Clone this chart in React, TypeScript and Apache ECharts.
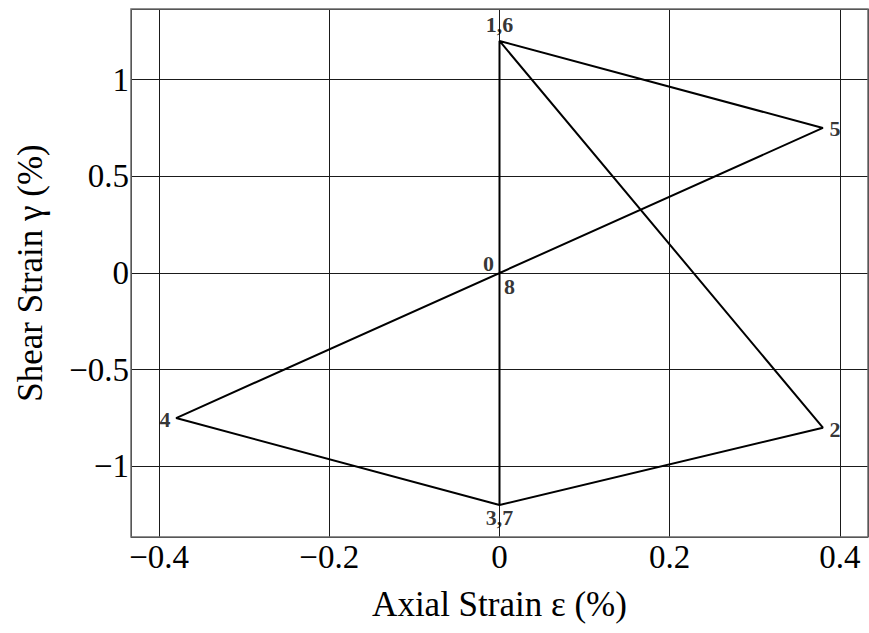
import React, { useEffect, useRef } from "react";
import * as echarts from "echarts";

// Loading path points 0..8 (axial strain ε %, shear strain γ %)
const axialStrain = [0, 0, 0.38, 0, -0.38, 0.38, 0, 0, 0];
const shearStrain = [0, 1.2, -0.8, -1.2, -0.75, 0.75, 1.2, -1.2, 0];

// Point annotations: label text and the path index it refers to
const pointLabelTexts = ["0", "1,6", "2", "3,7", "4", "5", "8"];
const pointLabelIndex = [0, 1, 2, 3, 4, 5, 8];
const pointLabelOffsets: [number, number][] = [
  [-11, -10],
  [0, -16],
  [12, 2],
  [0, 12],
  [-11, 1],
  [12, 1],
  [10, 13],
];

const xLimits = [-0.433, 0.433];
const yLimits = [-1.365, 1.365];

const SERIF = "'Liberation Serif', 'DejaVu Serif', serif";
const fmt = (v: number) => {
  const r = Math.round(v * 1000) / 1000;
  if (r === 0) return "0";
  return (r < 0 ? "\u2212" : "") + String(Math.abs(r));
};

const GRID = { left: 131, top: 9, width: 737, height: 528 };

export default function App() {
  const ref = useRef<HTMLDivElement>(null);
  useEffect(() => {
    if (!ref.current) return;
    const chart = echarts.init(ref.current, null, { renderer: "svg" });
    const pathData = axialStrain.map((x, i) => [x, shearStrain[i]]);
    const labelData = pointLabelTexts.map((t, k) => ({
      value: [axialStrain[pointLabelIndex[k]], shearStrain[pointLabelIndex[k]]],
      label: {
        show: true,
        position: "inside",
        offset: pointLabelOffsets[k],
        formatter: t,
      },
    }));
    chart.setOption({
      animation: false,
      backgroundColor: "#ffffff",
      grid: { ...GRID, containLabel: false, outerBoundsMode: "none", show: false },
      xAxis: {
        type: "value",
        min: xLimits[0],
        max: xLimits[1],
        splitNumber: 4,
        name: "Axial Strain ε (%)",
        nameLocation: "middle",
        nameGap: 50,
        nameTextStyle: { fontFamily: SERIF, fontSize: 35, color: "#000" },
        axisLine: { show: false },
        axisTick: { show: false },
        axisLabel: {
          showMinLabel: false,
          showMaxLabel: false,
          formatter: fmt,
          fontFamily: SERIF,
          fontSize: 33,
          color: "#000",
          margin: 3,
        },
        splitLine: { show: true, lineStyle: { color: "#1a1a1a", width: 1 } },
      },
      yAxis: {
        type: "value",
        min: yLimits[0],
        max: yLimits[1],
        splitNumber: 5,
        name: "Shear Strain γ (%)",
        nameLocation: "middle",
        nameGap: 83,
        nameTextStyle: { fontFamily: SERIF, fontSize: 35, color: "#000" },
        axisLine: { show: false },
        axisTick: { show: false },
        axisLabel: {
          showMinLabel: false,
          showMaxLabel: false,
          formatter: fmt,
          fontFamily: SERIF,
          fontSize: 33,
          color: "#000",
          margin: 2,
        },
        splitLine: { show: true, lineStyle: { color: "#1a1a1a", width: 1 } },
      },
      graphic: [
        {
          type: "rect",
          z: 100,
          silent: true,
          shape: { x: GRID.left, y: GRID.top, width: GRID.width, height: GRID.height },
          style: { fill: "none", stroke: "#6b6b6b", lineWidth: 1.5 },
        },
      ],
      series: [
        {
          type: "line",
          data: pathData,
          showSymbol: false,
          symbol: "none",
          lineStyle: { color: "#000", width: 2 },
          z: 3,
        },
        {
          type: "scatter",
          data: labelData,
          symbolSize: 0,
          itemStyle: { color: "transparent" },
          label: {
            show: true,
            fontFamily: SERIF,
            fontWeight: "bold",
            fontSize: 22,
            color: "#000",
            textBorderColor: "transparent",
            textBorderWidth: 0,
          },
          z: 4,
        },
      ],
    });
    return () => chart.dispose();
  }, []);
  return (
    <div
      ref={ref}
      style={{ position: "fixed", left: 0, top: 0, width: 869, height: 633, background: "#fff" }}
    />
  );
}
